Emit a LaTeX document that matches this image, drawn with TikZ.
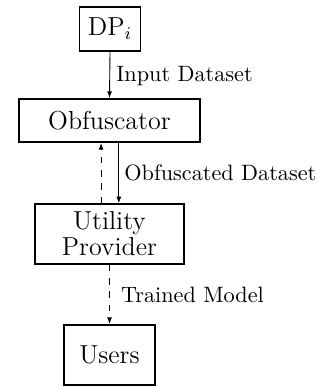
\documentclass[tikz,border=0pt]{standalone}
\usetikzlibrary{arrows.meta}
\begin{document}
\begin{tikzpicture}[x=0.45pt,y=-0.45pt,
  box/.style={draw,line width=0.8pt,inner sep=0pt,align=center,
    font=\fontsize{11.7}{11.7}\selectfont},
  lbl/.style={inner sep=0pt,anchor=base west,font=\fontsize{10}{12}\selectfont},
  arr/.style={line width=0.4pt,-{Latex[length=3pt,width=2.2pt]}}]
\useasboundingbox (0,0) rectangle (320,387);
\node[box,minimum width=27.4pt,minimum height=20pt] (dp) at (110,29) {DP$_i$};
\node[box,minimum width=81.2pt,minimum height=19.4pt] (obf) at (109.5,120.5) {Obfuscator};
\node[box,minimum width=67.2pt,minimum height=26.8pt] (up) at (109.5,234) {Utility\\Provider};
\node[box,minimum width=40.6pt,minimum height=27pt] (users) at (109.5,355) {Users};
\draw[arr] (dp.south) -- (obf.north);
\draw[arr,dashed] ([xshift=-3.8pt]up.north) -- ([xshift=-3.8pt]obf.south);
\draw[arr] ([xshift=4.2pt]obf.south) -- ([xshift=4.2pt]up.north);
\draw[arr,dashed] (up.south) -- (users.north);
\node[lbl] (l1) at (116,81) {Input Dataset};
\node[lbl] (l2) at (124,180.7) {Obfuscated Dataset};
\node[lbl] (l3) at (120.7,302.7) {Trained Model};
\end{tikzpicture}
\end{document}
